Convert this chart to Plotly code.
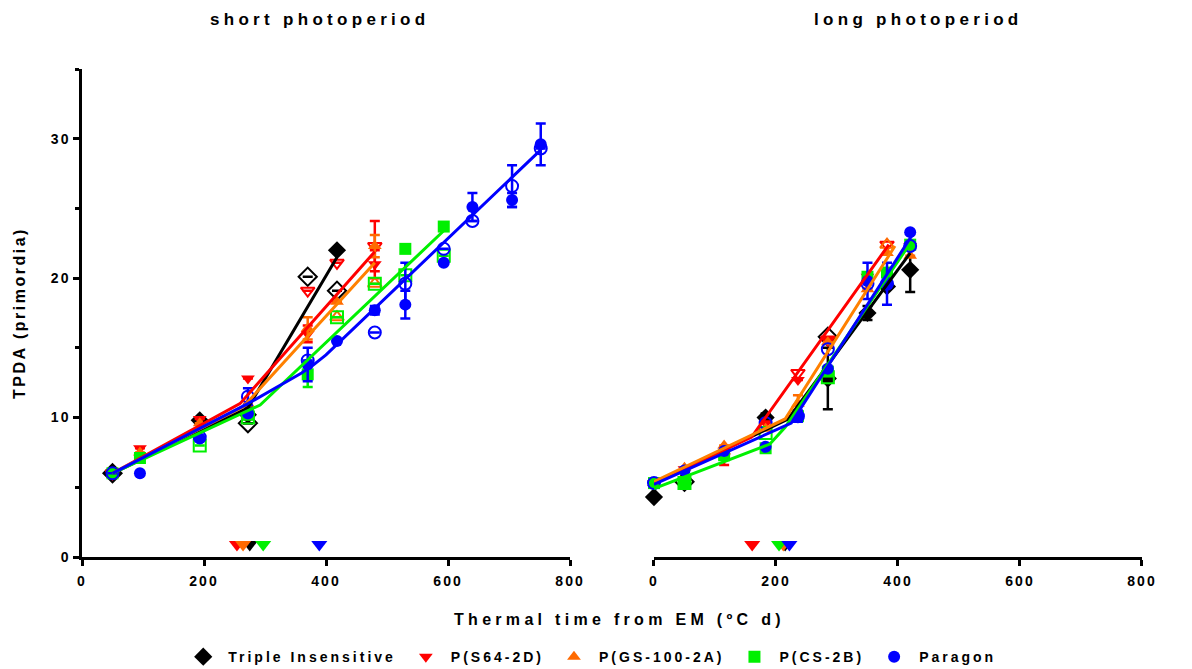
import plotly.graph_objects as go

# ---------------- data ----------------
genotypes = ["Triple Insensitive", "P(S64-2D)", "P(GS-100-2A)", "P(CS-2B)", "Paragon"]
colors = ["#000000", "#FF0000", "#FF6A00", "#00F000", "#0000FF"]
line_colors = ["#000000", "#FF0000", "#FF8000", "#00F000", "#0000FF"]
symbols = ["diamond", "triangle-down", "triangle-up", "square", "circle"]

# short photoperiod (left panel)
short_filled_x = [[50, 193, 272, 418],
                  [50, 95, 193, 272, 370, 480],
                  [50, 95, 193, 272, 370, 418, 480],
                  [50, 95, 272, 370, 530, 593],
                  [95, 193, 272, 370, 418, 480, 530, 593, 640, 705, 752]]
short_filled_y = [[6.0, 9.8, 10.2, 22.0],
                  [6.0, 7.8, 9.9, 12.8, 16.0, 21.0],
                  [6.0, 7.5, 9.6, 11.0, 16.4, 18.3, 22.3],
                  [6.0, 7.1, 10.2, 13.1, 22.1, 23.7],
                  [6.0, 8.5, 10.3, 13.8, 15.5, 17.7, 18.1, 21.1, 25.1, 25.6, 29.6]]
short_filled_err = [[0, 0.2, 0.6, 0],
                    [0, 0, 0, 0, 0.6, 1.0],
                    [0, 0, 0, 0, 0.8, 0, 0.8],
                    [0, 0, 0, 0.9, 0, 0],
                    [0, 0, 0, 1.2, 0, 0.3, 1.0, 0, 1.0, 0.5, 1.5]]
short_open_x = [[50, 272, 370, 418],
                [50, 370, 418, 480],
                [418, 480],
                [193, 272, 418, 480, 530, 593],
                [50, 193, 272, 370, 480, 530, 593, 640, 705, 752]]
short_open_y = [[6.0, 9.6, 20.1, 19.1],
                [6.0, 19.1, 21.1, 22.3],
                [17.2, 19.6],
                [8.0, 10.0, 17.2, 19.6, 20.2, 21.6],
                [6.0, 8.6, 11.5, 14.1, 16.1, 19.6, 22.1, 24.1, 26.6, 29.3]]
short_open_err = [[0, 0, 0, 0],
                  [0, 0, 0, 1.8],
                  [0, 0],
                  [0, 0, 0, 0, 0, 0],
                  [0, 0, 0.6, 0, 0, 1.5, 0, 0, 1.5, 0]]
short_fit_x = [[50, 272, 418],
               [50, 259, 480],
               [50, 265, 480],
               [50, 270, 292, 593],
               [50, 272, 360, 380, 400, 752]]
short_fit_y = [[6.0, 10.7, 21.5],
               [6.0, 11.0, 21.9],
               [6.0, 10.8, 21.1],
               [6.0, 10.5, 10.9, 23.4],
               [6.0, 11.0, 13.2, 13.8, 14.5, 29.2]]
short_break = [275, 254, 264, 297, 389]

# long photoperiod (right panel)
long_filled_x = [[0, 183, 285, 350, 382, 420],
                 [0, 50, 115, 183, 236, 285, 350, 420],
                 [0, 50, 115, 183, 236, 285, 350, 382, 420],
                 [0, 50, 115, 183, 236, 285, 350, 382, 420],
                 [50, 115, 183, 236, 285, 350, 382, 420]]
long_filled_y = [[4.3, 10.0, 12.8, 17.5, 19.4, 20.6],
                 [5.3, 6.3, 7.2, 9.6, 12.7, 15.6, 20.1, 22.3],
                 [5.3, 6.4, 8.0, 9.2, 11.0, 15.4, 19.2, 21.8, 21.6],
                 [5.3, 5.3, 7.3, 7.8, 10.1, 13.3, 20.1, 20.4, 22.4],
                 [6.2, 7.6, 7.9, 10.1, 13.5, 19.8, 19.6, 23.3]]
long_filled_err = [[0, 0.3, 2.2, 0.5, 0, 1.6],
                   [0, 0, 0.6, 0, 0, 0, 0, 0],
                   [0, 0, 0, 0, 0.6, 0, 0, 0, 0],
                   [0, 0, 0, 0, 0, 0, 0, 0, 0],
                   [0, 0, 0, 0.4, 0, 1.3, 1.5, 0]]
long_open_x = [[50, 285],
               [236, 285, 382],
               [382],
               [50, 183, 285],
               [0, 183, 236, 285, 350, 382, 420]]
long_open_y = [[5.4, 15.8],
               [13.2, 15.6, 22.4],
               [22.4],
               [5.3, 8.9, 12.9],
               [5.3, 9.6, 10.1, 14.9, 19.6, 19.6, 22.3]]
long_fit_x = [[0, 220, 420],
              [0, 160, 385],
              [0, 215, 395],
              [0, 190, 215, 420],
              [0, 225, 422]]
long_fit_y = [[5.3, 9.9, 21.8],
              [5.3, 8.6, 22.4],
              [5.4, 9.9, 22.3],
              [4.9, 8.1, 9.3, 22.5],
              [5.2, 9.6, 23.0]]
long_break = [215, 161, 212, 205, 222]
break_y = 0.9

FONT = "Liberation Sans, Arial, sans-serif"
sizes = [14, 12, 12, 12, 12]

fig = go.Figure()


def add_panel(xa, ya, fx, fy, fe, ox, oy, oe, lx, ly, brk, legend):
    for i, g in enumerate(genotypes):
        c = colors[i]
        fig.add_trace(go.Scatter(
            x=ox[i], y=oy[i], mode="markers", xaxis=xa, yaxis=ya, cliponaxis=False,
            marker=dict(symbol=symbols[i] + "-open", size=sizes[i], color=c,
                        line=dict(width=2, color=c)),
            error_y=dict(type="data", array=oe[i] if oe else None, visible=bool(oe),
                         color=c, thickness=2.5, width=5),
            showlegend=False, legendgroup=g, hoverinfo="skip"))
        fig.add_trace(go.Scatter(
            x=fx[i], y=fy[i], mode="markers", xaxis=xa, yaxis=ya, name=g, cliponaxis=False,
            marker=dict(symbol=symbols[i], size=sizes[i], color=c, line=dict(width=0)),
            error_y=dict(type="data", array=fe[i], color=c, thickness=2.5, width=5),
            showlegend=legend, legendgroup=g))
    for i, g in enumerate(genotypes):
        fig.add_trace(go.Scatter(
            x=lx[i], y=ly[i], mode="lines", xaxis=xa, yaxis=ya,
            line=dict(color=line_colors[i], width=3), showlegend=False,
            legendgroup=g, hoverinfo="skip"))
    for i, g in enumerate(genotypes):
        fig.add_trace(go.Scatter(
            x=[brk[i]], y=[break_y], mode="markers", xaxis=xa, yaxis=ya, cliponaxis=False,
            marker=dict(symbol="triangle-down", size=14, color=colors[i]),
            showlegend=False, legendgroup=g, hoverinfo="skip"))


add_panel("x", "y", short_filled_x, short_filled_y, short_filled_err,
          short_open_x, short_open_y, short_open_err,
          short_fit_x, short_fit_y, short_break, True)
add_panel("x2", "y2", long_filled_x, long_filled_y, long_filled_err,
          long_open_x, long_open_y, None,
          long_fit_x, long_fit_y, long_break, False)

tickfont = dict(family=FONT, size=14, color="#000000", weight="bold")
xcommon = dict(range=[0, 800], tickvals=[0, 200, 400, 600, 800], showline=True,
               linecolor="#000000", linewidth=2.5, ticks="outside", ticklen=6,
               tickwidth=2.5, tickcolor="#000000", showgrid=False, zeroline=False,
               tickfont=tickfont, ticklabelstandoff=3)

fig.update_layout(
    width=1192, height=669,
    margin=dict(l=82, r=50, t=69, b=112, autoexpand=False),
    paper_bgcolor="white", plot_bgcolor="white",
    font=dict(family=FONT, color="#000000"),
    xaxis=dict(domain=[0, 0.4604], anchor="y", **xcommon),
    xaxis2=dict(domain=[0.5396, 1.0], anchor="y2", **xcommon),
    yaxis=dict(range=[0, 35], tickvals=[0, 10, 20, 30], showline=True, linecolor="#000000",
               linewidth=2.5, ticks="outside", ticklen=6, tickwidth=2.5,
               tickcolor="#000000", showgrid=False, zeroline=False, tickfont=tickfont,
               automargin=False,
               minor=dict(tickvals=[5, 15, 25, 35], ticks="outside", ticklen=4,
                          tickwidth=2.5, tickcolor="#000000"),
               title=dict(text="TPDA (primordia)", standoff=26,
                          font=dict(family=FONT, size=16, weight="bold"))),
    yaxis2=dict(range=[0, 35], anchor="x2", showline=False, showticklabels=False,
                ticks="", showgrid=False, zeroline=False),
    legend=dict(orientation="h", x=0.479, xanchor="center", y=-0.205, yanchor="middle",
                font=dict(family=FONT, size=14, weight="bold"), itemwidth=40,
                tracegroupgap=0),
    annotations=[
        dict(text="short photoperiod", x=0.2236, y=1.101, xref="paper", yref="paper",
             showarrow=False, font=dict(family=FONT, size=17, weight="bold"),
             xanchor="center", yanchor="middle"),
        dict(text="long photoperiod", x=0.7887, y=1.101, xref="paper", yref="paper",
             showarrow=False, font=dict(family=FONT, size=17, weight="bold"),
             xanchor="center", yanchor="middle"),
        dict(text="Thermal time from EM (ºC d)", x=0.5075, y=-0.129, xref="paper",
             yref="paper", showarrow=False, font=dict(family=FONT, size=16, weight="bold"),
             xanchor="center", yanchor="middle"),
    ],
)

post = """
document.body.style.margin = '0';
var st = document.createElement('style');
st.textContent = 'svg text.annotation-text{letter-spacing:4.3px;}' +
  'svg g.annotation:nth-of-type(-n+2) text.annotation-text{letter-spacing:5px;}' +
  'svg text.legendtext{letter-spacing:3px;}' +
  'svg g.xtick text, svg g.x2tick text, svg g.ytick text{letter-spacing:2px;}' +
  'svg text.ytitle{letter-spacing:2.5px;}';
document.head.appendChild(st);
var gd = document.getElementById('{plot_id}');
var L = gd.layout;
L.legend.font.size += 0.01;
L.annotations.forEach(function(a){ a.font.size += 0.01; });
L.yaxis.title.font.size += 0.01;
Plotly.newPlot(gd, gd.data, L, {displayModeBar: false});
"""

fig.write_html("out.html", post_script=post)
